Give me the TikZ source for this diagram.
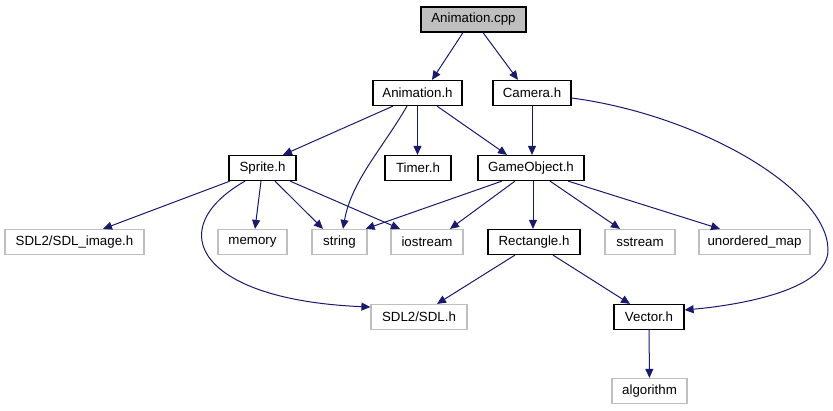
\documentclass[tikz,border=0pt]{standalone}
\usepackage{fontspec}
\setmainfont{Liberation Sans}
\usetikzlibrary{arrows.meta}
\definecolor{edgeblue}{HTML}{191970}
\definecolor{sysgray}{HTML}{BFBFBF}

\begin{document}
\begin{tikzpicture}[
    x=1pt, y=-1pt,
    >={Triangle[length=9pt, width=8pt]},
    hdr/.style={draw=black, line width=1.2pt, fill=white, rectangle, inner sep=0pt, minimum height=25pt, font=\fontsize{13.3}{16}\selectfont},
    cur/.style={hdr, fill=sysgray},
    sys/.style={hdr, draw=sysgray},
    every edge/.style={draw=edgeblue, ->, line width=1pt}
]
\useasboundingbox (0,0) rectangle (833,411);

% file being documented
\node[cur, minimum width=105pt] (cpp) at (473.5,19.5) {Animation.cpp};

% first level headers
\node[hdr, minimum width=89pt] (anim) at (417.5,93) {Animation.h};
\node[hdr, minimum width=78pt] (cam) at (532,93) {Camera.h};

% second level headers
\node[hdr, minimum width=67pt] (sprite) at (262.5,168) {Sprite.h};
\node[hdr, minimum width=66pt] (timer) at (418,168) {Timer.h};
\node[hdr, minimum width=106pt] (gobj) at (531,168) {GameObject.h};

% third row
\node[sys, minimum width=139pt] (sdlimg) at (74.5,242) {SDL2/SDL\_image.h};
\node[sys, minimum width=69pt] (memory) at (252.5,242) {memory};
\node[sys, minimum width=55pt] (string) at (339.5,242) {string};
\node[sys, minimum width=72pt] (iostream) at (427,242) {iostream};
\node[hdr, minimum width=92pt] (rect) at (534,242) {Rectangle.h};
\node[sys, minimum width=70pt] (sstream) at (640,242) {sstream};
\node[sys, minimum width=111pt] (umap) at (754.5,242) {unordered\_map};

% fourth row
\node[sys, minimum width=96pt] (sdl) at (419,317) {SDL2/SDL.h};
\node[hdr, minimum width=70pt] (vector) at (649,317) {Vector.h};

% last row
\node[sys, minimum width=75pt] (algo) at (649.5,391) {algorithm};

% includes of Animation.cpp
\draw ([xshift=-10.5pt]cpp.south) edge ([xshift=14.5pt]anim.north);
\draw ([xshift=9.5pt]cpp.south) edge ([xshift=-14pt]cam.north);

% includes of Animation.h
\draw ([xshift=-24.5pt]anim.south) edge ([xshift=20.5pt]sprite.north);
\draw ([xshift=-10.5pt]anim.south) edge[out=-120, in=80, looseness=0.9] ([xshift=3.5pt]string.north);
\draw (anim.south) edge (anim.south |- timer.north);
\draw ([xshift=19.5pt]anim.south) edge ([xshift=-24pt]gobj.north);

% includes of Camera.h
\draw (cam.south) edge (cam.south |- gobj.north);
\draw[edgeblue, ->, line width=1pt] ([yshift=-5pt]cam.east) .. controls (700,115) and (828,190) .. (828,250)
    .. controls (828,290) and (740,305) .. ([yshift=7pt]vector.east);

% includes of Sprite.h
\draw ([xshift=-32.5pt]sprite.south) edge ([xshift=28.5pt]sdlimg.north);
\draw[edgeblue, ->, line width=1pt] ([xshift=-17.5pt]sprite.south) .. controls (160,230) and (200,300) .. ([yshift=10pt]sdl.west);
\draw ([xshift=-1.5pt]sprite.south) edge ([xshift=2.5pt]memory.north);
\draw ([xshift=12.5pt]sprite.south) edge ([xshift=-16.5pt]string.north);
\draw ([xshift=27.5pt]sprite.south) edge ([xshift=-27pt]iostream.north);

% includes of GameObject.h
\draw ([xshift=-29pt]gobj.south) edge ([xshift=-2pt]string.north east);
\draw ([xshift=-16pt]gobj.south) edge ([xshift=23pt]iostream.north);
\draw ([xshift=2pt]gobj.south) edge ([xshift=-1pt]rect.north);
\draw ([xshift=19pt]gobj.south) edge ([xshift=-20pt]sstream.north);
\draw ([xshift=37pt]gobj.south) edge ([xshift=-34.5pt]umap.north);

% includes of Rectangle.h and Vector.h
\draw ([xshift=-19pt]rect.south) edge ([xshift=18pt]sdl.north);
\draw ([xshift=19pt]rect.south) edge ([xshift=-19pt]vector.north);
\draw (vector) edge (algo);

\end{tikzpicture}
\end{document}
